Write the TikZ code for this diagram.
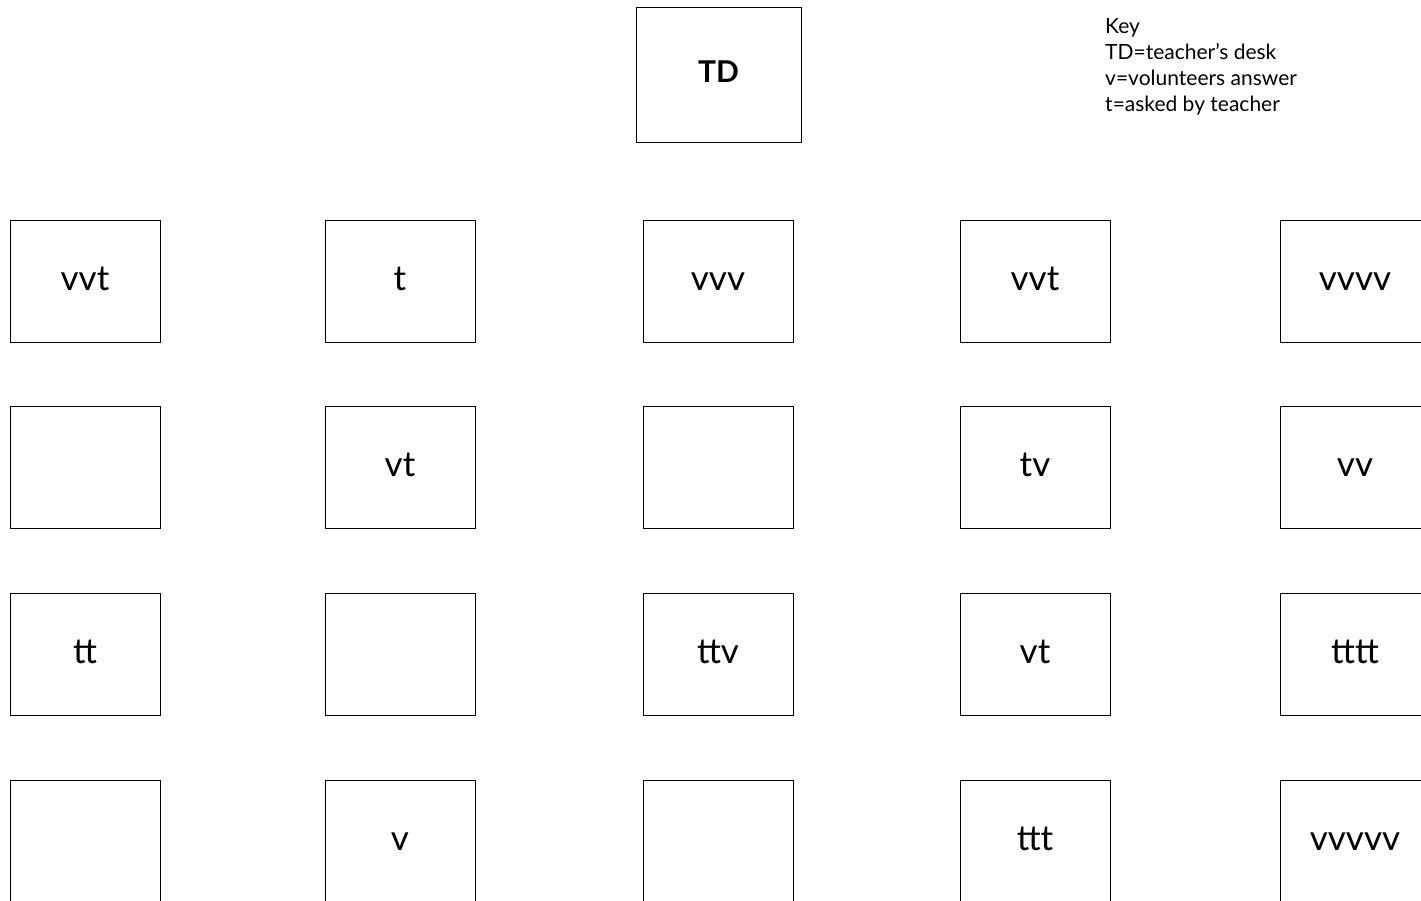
\documentclass[tikz,border=0pt]{standalone}
\usepackage{fontspec}
\setmainfont{Lato}

\begin{document}
\begin{tikzpicture}[x=1pt, y=-1pt,
  desk/.style={draw, line width=0.8pt, minimum width=150pt, minimum height=122pt, inner sep=0pt,
    text height=18pt, text depth=0pt, font=\fontsize{35}{38}\selectfont},
  tdesk/.style={desk, minimum width=165pt, minimum height=135pt, text height=15pt,
    font=\fontsize{30}{32}\selectfont\bfseries}]
  % page frame, cut off at right and bottom like the original
  \useasboundingbox (0,0) rectangle (1421,900);
  \clip (0,0) rectangle (1421,900);

  % teacher's desk
  \node[tdesk] (TD) at (718.5, 74.5) {TD};

  % key
  \node[anchor=north west, align=left, inner sep=0pt, font=\fontsize{21}{26}\selectfont]
    (key) at (1105, 18) {Key\\TD=teacher’s desk\\v=volunteers answer\\t=asked by teacher};

  % student desks, row by row
  \foreach \lab [count=\c] in {vvt, t, vvv, vvt, vvvv}
    \node[desk] (d1\c) at ({\c==1 ? 85 : (\c==2 ? 400 : (\c==3 ? 718 : (\c==4 ? 1035 : 1355)))}, 281) {\lab};
  \foreach \lab [count=\c] in {{}, vt, {}, tv, vv}
    \node[desk] (d2\c) at ({\c==1 ? 85 : (\c==2 ? 400 : (\c==3 ? 718 : (\c==4 ? 1035 : 1355)))}, 467) {\lab};
  \foreach \lab [count=\c] in {tt, {}, ttv, vt, tttt}
    \node[desk] (d3\c) at ({\c==1 ? 85 : (\c==2 ? 400 : (\c==3 ? 718 : (\c==4 ? 1035 : 1355)))}, 654) {\lab};
  \foreach \lab [count=\c] in {{}, v, {}, ttt, vvvvv}
    \node[desk] (d4\c) at ({\c==1 ? 85 : (\c==2 ? 400 : (\c==3 ? 718 : (\c==4 ? 1035 : 1355)))}, 841) {\lab};
\end{tikzpicture}
\end{document}
